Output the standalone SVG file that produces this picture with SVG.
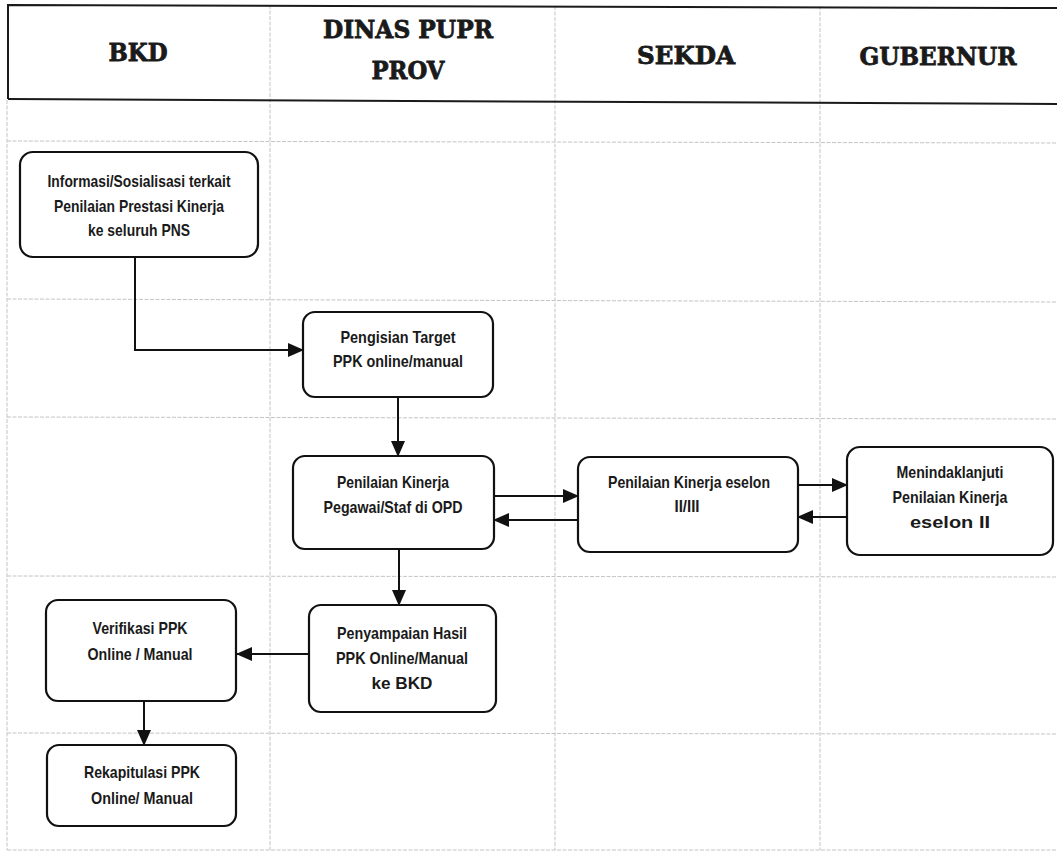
<svg xmlns="http://www.w3.org/2000/svg" width="1057" height="852" viewBox="0 0 1057 852">
<defs>
<style>
.grid{stroke:#c4c4c4;stroke-width:1;stroke-dasharray:4 1.5;fill:none}
.hdr{stroke:#1a1a1a;stroke-width:2;fill:none}
.box{fill:#fff;stroke:#111;stroke-width:2.2}
.t{font-family:"Liberation Sans",Arial,sans-serif;font-weight:bold;font-size:17px;fill:#1a1a1a;text-anchor:middle}
.h{font-family:"DejaVu Serif","Liberation Serif",serif;font-weight:bold;font-size:24px;fill:#1a1a1a;stroke:#1a1a1a;stroke-width:0.8;text-anchor:middle}
.c{stroke:#111;stroke-width:2;fill:none;marker-end:url(#ah)}
</style>
<marker id="ah" viewBox="0 0 16 14" markerWidth="16" markerHeight="14" refX="15" refY="7" orient="auto" markerUnits="userSpaceOnUse">
<path d="M0,0 L16,7 L0,14 z" fill="#111"/>
</marker>
</defs>
<rect x="0" y="0" width="1057" height="852" fill="#fff"/>
<g id="grid">
<line class="grid" x1="7" y1="100" x2="7" y2="850"/>
<line class="grid" x1="270" y1="5" x2="270" y2="850"/>
<line class="grid" x1="555" y1="6" x2="555" y2="850"/>
<line class="grid" x1="820" y1="6" x2="820" y2="850"/>
<line class="grid" x1="7" y1="141" x2="1057" y2="143"/>
<line class="grid" x1="7" y1="299" x2="1057" y2="302"/>
<line class="grid" x1="7" y1="417" x2="1057" y2="419"/>
<line class="grid" x1="7" y1="576" x2="1057" y2="577"/>
<line class="grid" x1="7" y1="733" x2="1057" y2="734"/>
<line class="grid" x1="7" y1="850" x2="1057" y2="850"/>
</g>
<g id="header">
<path class="hdr" d="M8,99 V5 L1057,8"/>
<path class="hdr" d="M8,99 L1057,104"/>
<text class="h" x="138" y="61" textLength="59" lengthAdjust="spacingAndGlyphs">BKD</text>
<text class="h" x="408" y="38" textLength="170" lengthAdjust="spacingAndGlyphs">DINAS PUPR</text>
<text class="h" x="408" y="79" textLength="73" lengthAdjust="spacingAndGlyphs">PROV</text>
<text class="h" x="686" y="64" textLength="98" lengthAdjust="spacingAndGlyphs">SEKDA</text>
<text class="h" x="938" y="65" textLength="157" lengthAdjust="spacingAndGlyphs">GUBERNUR</text>
</g>
<g id="connectors">
<path class="c" d="M135,257 V350 H303"/>
<path class="c" d="M398,397 V456"/>
<path class="c" d="M494,496 H578"/>
<path class="c" d="M578,520 H494"/>
<path class="c" d="M798,485 H847"/>
<path class="c" d="M847,517 H798"/>
<path class="c" d="M399,549 V605"/>
<path class="c" d="M309,654 H237"/>
<path class="c" d="M144,701 V745"/>
</g>
<g id="n1">
<rect class="box" x="20" y="152" width="238" height="105" rx="13"/>
<text class="t" x="139" y="187" textLength="183" lengthAdjust="spacingAndGlyphs">Informasi/Sosialisasi terkait</text>
<text class="t" x="139" y="212" textLength="170" lengthAdjust="spacingAndGlyphs">Penilaian Prestasi Kinerja</text>
<text class="t" x="139" y="236" textLength="102" lengthAdjust="spacingAndGlyphs">ke seluruh PNS</text>
</g>
<g id="n2">
<rect class="box" x="303" y="312" width="190" height="85" rx="12"/>
<text class="t" x="398" y="343" textLength="115" lengthAdjust="spacingAndGlyphs">Pengisian Target</text>
<text class="t" x="398" y="367" textLength="130" lengthAdjust="spacingAndGlyphs">PPK online/manual</text>
</g>
<g id="n3">
<rect class="box" x="293" y="456" width="201" height="93" rx="12"/>
<text class="t" x="393" y="488" textLength="112" lengthAdjust="spacingAndGlyphs">Penilaian Kinerja</text>
<text class="t" x="393" y="513" textLength="139" lengthAdjust="spacingAndGlyphs">Pegawai/Staf di OPD</text>
</g>
<g id="n4">
<rect class="box" x="578" y="457" width="220" height="95" rx="12"/>
<text class="t" x="689" y="488" textLength="162" lengthAdjust="spacingAndGlyphs">Penilaian Kinerja eselon</text>
<text class="t" x="687" y="512" textLength="25" lengthAdjust="spacingAndGlyphs">II/III</text>
</g>
<g id="n5">
<rect class="box" x="847" y="447" width="206" height="108" rx="13"/>
<text class="t" x="950" y="478" textLength="107" lengthAdjust="spacingAndGlyphs">Menindaklanjuti</text>
<text class="t" x="950" y="503" textLength="115" lengthAdjust="spacingAndGlyphs">Penilaian Kinerja</text>
<text class="t" x="950" y="528" textLength="80" lengthAdjust="spacingAndGlyphs">eselon II</text>
</g>
<g id="n6">
<rect class="box" x="309" y="605" width="187" height="107" rx="12"/>
<text class="t" x="402" y="639" textLength="130" lengthAdjust="spacingAndGlyphs">Penyampaian Hasil</text>
<text class="t" x="402" y="664" textLength="132" lengthAdjust="spacingAndGlyphs">PPK Online/Manual</text>
<text class="t" x="402" y="689" textLength="61" lengthAdjust="spacingAndGlyphs">ke BKD</text>
</g>
<g id="n7">
<rect class="box" x="46" y="600" width="190" height="101" rx="12"/>
<text class="t" x="140" y="634" textLength="95" lengthAdjust="spacingAndGlyphs">Verifikasi PPK</text>
<text class="t" x="140" y="660" textLength="105" lengthAdjust="spacingAndGlyphs">Online / Manual</text>
</g>
<g id="n8">
<rect class="box" x="47" y="745" width="189" height="81" rx="12"/>
<text class="t" x="142" y="778" textLength="116" lengthAdjust="spacingAndGlyphs">Rekapitulasi PPK</text>
<text class="t" x="142" y="804" textLength="102" lengthAdjust="spacingAndGlyphs">Online/ Manual</text>
</g>
</svg>
